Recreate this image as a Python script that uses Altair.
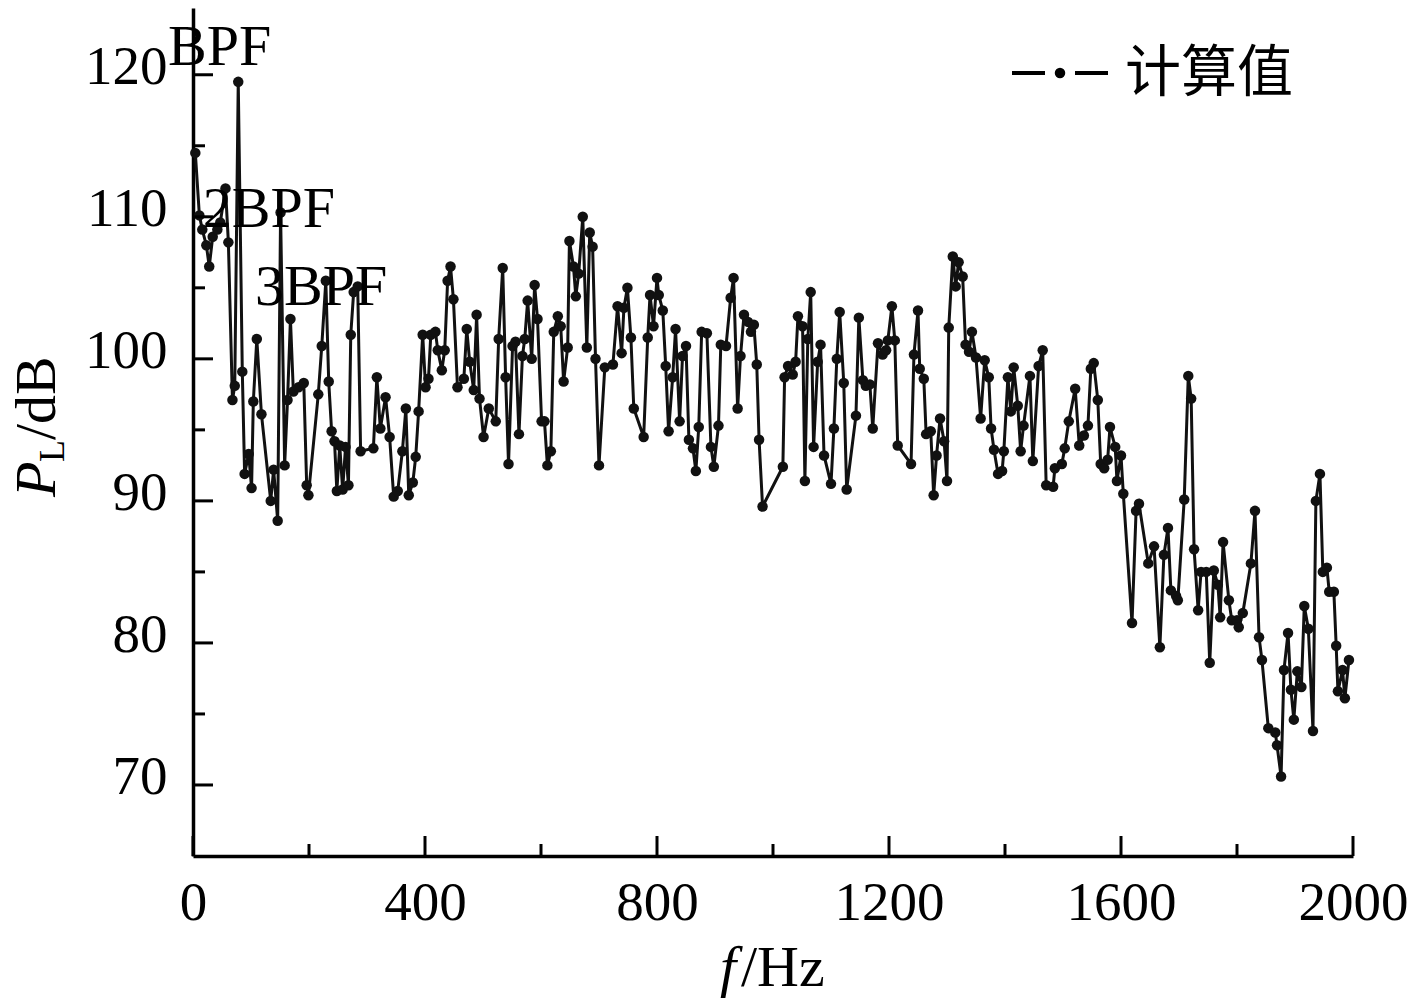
import altair as alt
import pandas as pd

# frequency (Hz) and sound pressure level (dB)
freq = [
    4, 11, 16, 23, 28, 34, 42, 47, 56, 61,
    68, 72, 78, 85, 89, 96, 101, 104, 110, 118,
    134, 139, 146, 151, 158, 163, 168, 173, 182, 191,
    196, 199, 216, 222, 229, 234, 239, 244, 248, 253,
    258, 263, 268, 272, 277, 284, 289, 311, 317, 323,
    332, 339, 346, 353, 361, 367, 372, 379, 384, 389,
    396, 401, 406, 410, 418, 422, 429, 434, 439, 444,
    449, 456, 467, 472, 477, 484, 489, 494, 501, 510,
    522, 527, 534, 539, 544, 551, 556, 562, 568, 572,
    577, 584, 589, 594, 601, 606, 611, 617, 622, 629,
    634, 639, 646, 649, 656, 660, 665, 672, 679, 684,
    689, 694, 700, 710, 724, 732, 739, 743, 749, 755,
    760, 777, 784, 788, 794, 800, 803, 810, 815, 820,
    827, 832, 839, 844, 850, 855, 862, 867, 872, 877,
    886, 893, 898, 906, 910, 919, 927, 932, 939, 944,
    950, 957, 962, 967, 972, 976, 982, 1017, 1020, 1026,
    1034, 1039, 1043, 1051, 1055, 1060, 1065, 1070, 1077, 1082,
    1088, 1100, 1105, 1110, 1115, 1122, 1127, 1143, 1148, 1155,
    1160, 1167, 1172, 1181, 1189, 1195, 1198, 1205, 1210, 1215,
    1238, 1243, 1250, 1253, 1260, 1264, 1272, 1277, 1282, 1288,
    1295, 1300, 1303, 1310, 1315, 1320, 1327, 1332, 1338, 1343,
    1350, 1358, 1365, 1372, 1376, 1381, 1388, 1395, 1398, 1405,
    1410, 1415, 1422, 1427, 1432, 1443, 1448, 1458, 1465, 1471,
    1483, 1486, 1498, 1503, 1510, 1521, 1528, 1536, 1543, 1548,
    1553, 1560, 1565, 1571, 1577, 1581, 1590, 1593, 1600, 1604,
    1619, 1626, 1631, 1647, 1657, 1667, 1674, 1681, 1686, 1695,
    1698, 1709, 1716, 1721, 1726, 1733, 1738, 1747, 1753, 1760,
    1767, 1771, 1776, 1786, 1791, 1800, 1803, 1810, 1824, 1831,
    1838, 1843, 1854, 1866, 1869, 1876, 1881, 1888, 1893, 1898,
    1904, 1911, 1916, 1923, 1931, 1936, 1943, 1948, 1955, 1959,
    1967, 1971, 1974, 1982, 1986, 1993,
]
level = [
    114.5, 110.1, 109.1, 108.0, 106.5, 108.6, 109.1, 109.6, 112.0, 108.2,
    97.1, 98.1, 119.5, 99.1, 91.9, 93.3, 90.9, 97.0, 101.4, 96.1,
    90.0, 92.2, 88.6, 110.3, 92.5, 97.1, 102.8, 97.7, 98.0, 98.3,
    91.1, 90.4, 97.5, 100.9, 105.5, 98.4, 94.9, 94.2, 90.7, 93.9,
    90.8, 93.8, 91.1, 101.7, 104.7, 105.1, 93.5, 93.7, 98.7, 95.1,
    97.3, 94.5, 90.3, 90.7, 93.5, 96.5, 90.4, 91.3, 93.1, 96.3,
    101.7, 98.0, 98.6, 101.7, 101.9, 100.6, 99.2, 100.6, 105.5, 106.5,
    104.2, 98.0, 98.6, 102.1, 99.8, 97.8, 103.1, 97.2, 94.5, 96.5,
    95.6, 101.4, 106.4, 98.7, 92.6, 100.9, 101.2, 94.7, 100.2, 101.4,
    104.1, 100.0, 105.2, 102.8, 95.6, 95.6, 92.5, 93.5, 101.9, 103.0,
    102.3, 98.4, 100.8, 108.3, 106.5, 104.4, 106.0, 110.0, 100.8, 108.9,
    107.9, 100.0, 92.5, 99.4, 99.6, 103.7, 100.4, 103.6, 105.0, 101.5,
    96.5, 94.5, 101.5, 104.5, 102.3, 105.7, 104.5, 103.4, 99.5, 94.9,
    98.7, 102.1, 95.6, 100.2, 100.9, 94.3, 93.7, 92.1, 95.2, 101.9,
    101.8, 93.8, 92.4, 95.3, 101.0, 100.9, 104.3, 105.7, 96.5, 100.2,
    103.1, 102.6, 101.9, 102.4, 99.6, 94.3, 89.6, 92.4, 98.7, 99.5,
    98.9, 99.8, 103.0, 102.3, 91.4, 101.4, 104.7, 93.8, 99.8, 101.0,
    93.2, 91.2, 95.1, 100.0, 103.3, 98.3, 90.8, 96.0, 102.9, 98.5,
    98.1, 98.2, 95.1, 101.1, 100.3, 100.6, 101.3, 103.7, 101.3, 93.9,
    92.6, 100.3, 103.4, 99.3, 98.6, 94.7, 94.9, 90.4, 93.2, 95.8,
    94.2, 91.4, 102.2, 107.2, 105.1, 106.8, 105.8, 101.0, 100.5, 101.9,
    100.1, 95.8, 99.9, 98.7, 95.1, 93.6, 91.9, 92.1, 93.5, 98.7,
    96.3, 99.4, 96.7, 93.5, 95.3, 98.8, 92.8, 99.5, 100.6, 91.1,
    91.0, 92.3, 92.6, 93.7, 95.6, 97.9, 93.9, 94.6, 95.3, 99.3,
    99.7, 97.1, 92.6, 92.3, 92.9, 95.2, 93.8, 91.4, 93.2, 90.5,
    81.4, 89.3, 89.8, 85.6, 86.8, 79.7, 86.2, 88.1, 83.7, 83.3,
    83.0, 90.1, 98.8, 97.2, 86.6, 82.3, 85.0, 85.0, 78.6, 85.1,
    84.1, 81.8, 87.1, 83.0, 81.6, 81.6, 81.1, 82.1, 85.6, 89.3,
    80.4, 78.8, 74.0, 73.7, 72.8, 70.6, 78.1, 80.7, 76.7, 74.6,
    78.0, 76.9, 82.6, 81.0, 73.8, 90.0, 91.9, 85.0, 85.3, 83.6,
    83.6, 79.8, 76.6, 78.1, 76.1, 78.8,
]
assert len(freq) == len(level)

x_major = [0, 400, 800, 1200, 1600, 2000]
x_minor = [200, 600, 1000, 1400, 1800]
y_major = [70, 80, 90, 100, 110, 120]
y_minor = [75, 85, 95, 105, 115]

ann_text = ["BPF", "2BPF", "3BPF"]
ann_f = [-43, 17, 107]
ann_db = [120.7, 109.3, 103.8]

legend_label = "计算值"

INK = "#111111"
SERIF = "Liberation Serif"
W, H = 1160, 848

df = pd.DataFrame({"f": freq, "db": level})
one = pd.DataFrame({"k": [0]})

xs = alt.Scale(domain=[0, 2000], nice=False, zero=False)
ys = alt.Scale(domain=[65, 124.7], nice=False, zero=False)

x_axis = alt.Axis(values=x_major, format="d", title=None, grid=False, ticks=False, tickSize=0,
                  labelFont=SERIF, labelFontSize=55, labelColor="black",
                  labelPadding=63, labelBaseline="alphabetic", labelFlush=False,
                  labelOverlap=False, domainColor="black", domainWidth=3.5)
y_axis = alt.Axis(values=y_major, format="d", title=None, grid=False, ticks=False, tickSize=0,
                  labelFont=SERIF, labelFontSize=55, labelColor="black",
                  labelPadding=26, labelBaseline="alphabetic", labelOffset=9,
                  labelFlush=False, labelOverlap=False,
                  domainColor="black", domainWidth=3.5)

X = lambda fld: alt.X(fld, scale=xs, axis=x_axis)
Y = lambda fld: alt.Y(fld, scale=ys, axis=y_axis)

line = alt.Chart(df).mark_line(color=INK, strokeWidth=3).encode(
    x=X("f:Q"), y=Y("db:Q"))
pts = alt.Chart(df).mark_circle(color=INK, size=110, opacity=1).encode(
    x=X("f:Q"), y=Y("db:Q"))

def xticks(vals, length):
    return alt.Chart(pd.DataFrame({"f": vals})).mark_rule(color="black", strokeWidth=3).encode(
        x=X("f:Q"), y=alt.value(H), y2=alt.value(H - length))

def yticks(vals, length):
    return alt.Chart(pd.DataFrame({"db": vals})).mark_rule(color="black", strokeWidth=3).encode(
        y=Y("db:Q"), x=alt.value(0), x2=alt.value(length))

ann = alt.Chart(pd.DataFrame({"t": ann_text, "f": ann_f, "db": ann_db})).mark_text(
    font=SERIF, fontSize=58, color="black", align="left", baseline="alphabetic"
).encode(x=X("f:Q"), y=Y("db:Q"), text="t:N")

def txt(s, x, y, size=58, style="normal", angle=0, font=SERIF, baseline="alphabetic"):
    kw = dict(text=s, font=font, fontSize=size, fontStyle=style, color="black",
              align="left", baseline=baseline)
    if angle:
        kw["angle"] = angle
    return alt.Chart(one).mark_text(**kw).encode(x=alt.value(x), y=alt.value(y))

titles = [
    txt("f", 527, 978, style="italic"),
    txt("/Hz", 548, 978),
    txt("P", -138, 489, style="italic", angle=270),
    txt("L", -129, 454, size=36, angle=270),
    txt("/dB", -138, 432, angle=270),
]

leg_line1 = alt.Chart(one).mark_rule(color="black", strokeWidth=4).encode(
    x=alt.value(819), x2=alt.value(852), y=alt.value(65))
leg_line2 = alt.Chart(one).mark_rule(color="black", strokeWidth=4).encode(
    x=alt.value(882), x2=alt.value(915), y=alt.value(65))
leg_dot = alt.Chart(one).mark_circle(color="black", size=110, opacity=1).encode(
    x=alt.value(867), y=alt.value(65))
leg_text = txt(legend_label, 932, 66, size=56, font="Noto Sans CJK SC", baseline="middle")

chart = alt.layer(
    line, pts,
    xticks(x_major, 20), xticks(x_minor, 12),
    yticks(y_major, 20), yticks(y_minor, 12),
    ann, *titles, leg_line1, leg_line2, leg_dot, leg_text,
).properties(
    width=W, height=H,
    autosize=alt.AutoSizeParams(type="none"),
    padding={"left": 185, "top": 0, "right": 56, "bottom": 144},
    background="white",
).configure_view(stroke=None)

chart.save("out.html", embed_options={"renderer": "svg", "actions": False})
